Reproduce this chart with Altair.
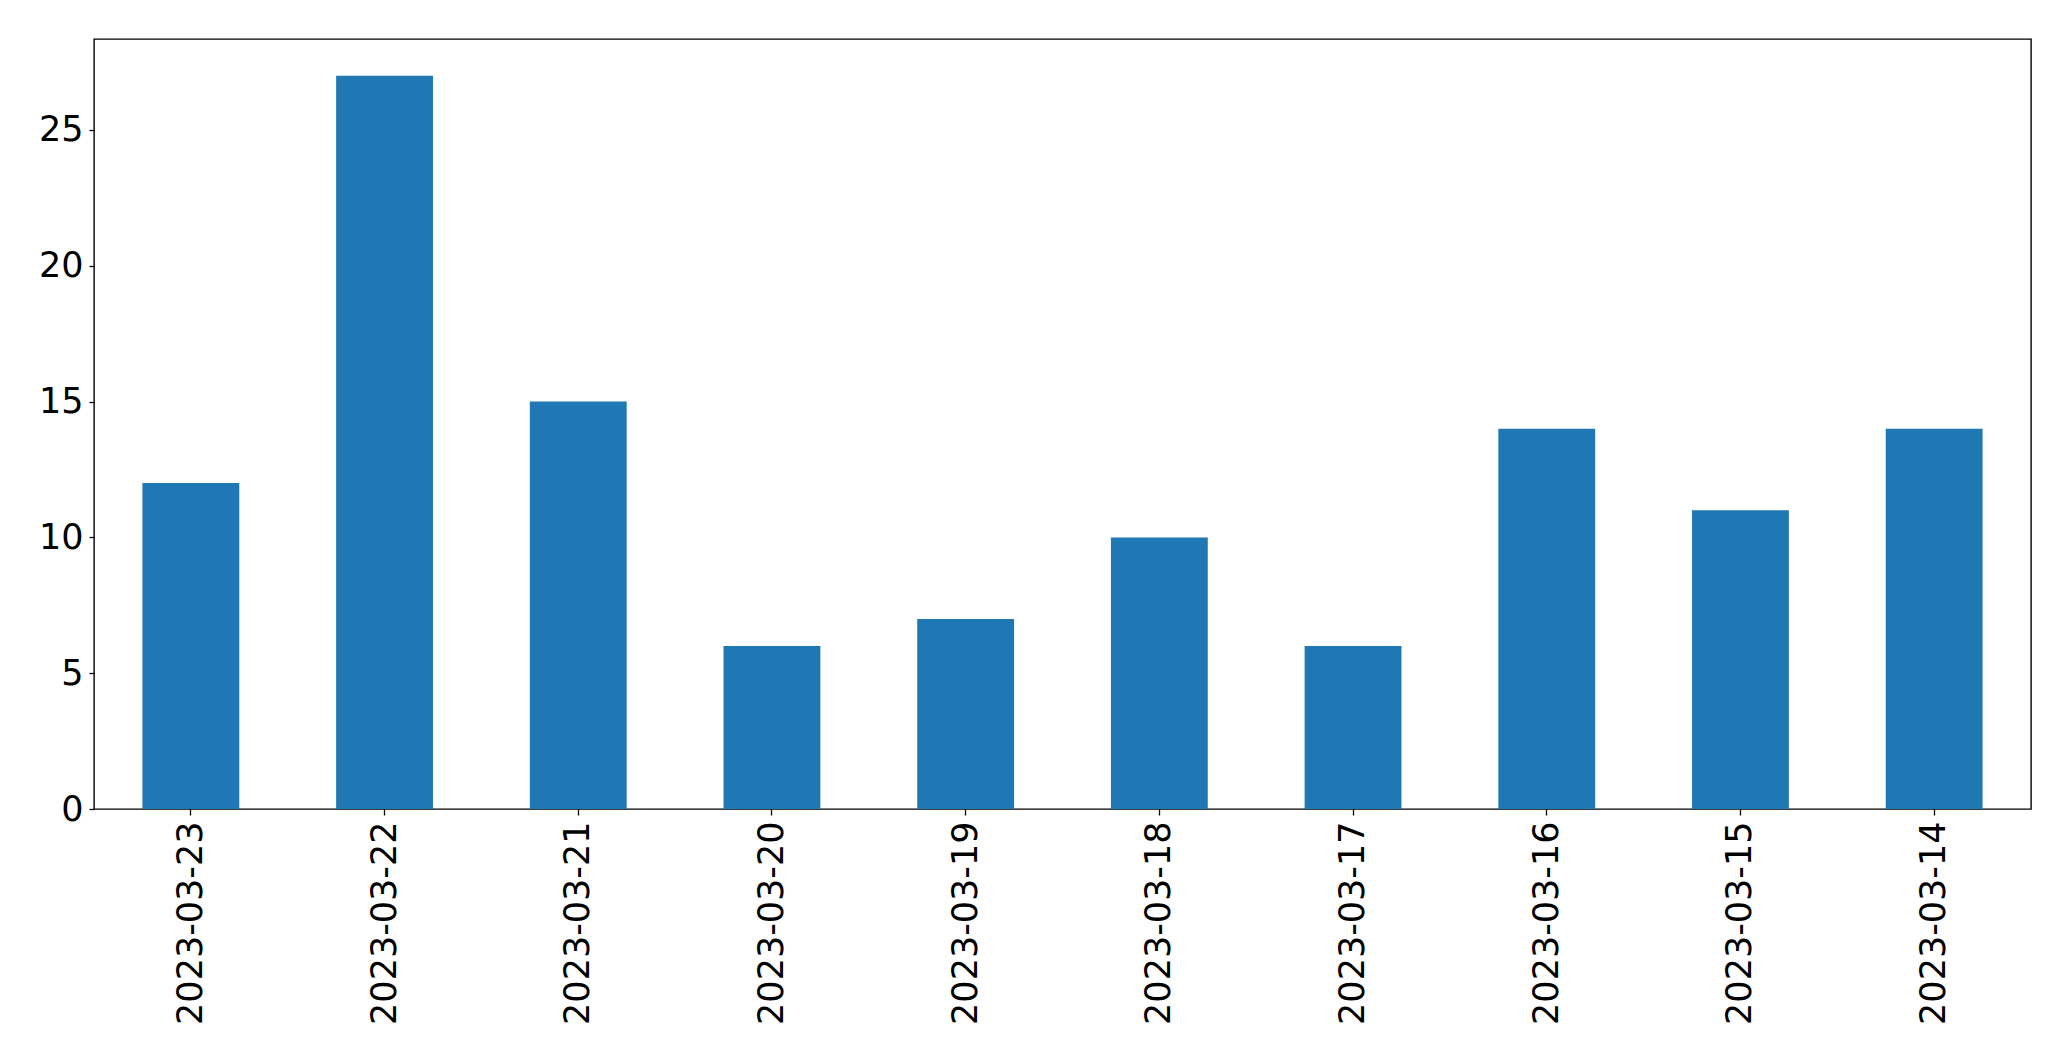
import altair as alt
import pandas as pd

dates = ["2023-03-23", "2023-03-22", "2023-03-21", "2023-03-20", "2023-03-19",
         "2023-03-18", "2023-03-17", "2023-03-16", "2023-03-15", "2023-03-14"]
counts = [12, 27, 15, 6, 7, 10, 6, 14, 11, 14]

df = pd.DataFrame({"date": dates, "count": counts})

chart = alt.Chart(df).mark_bar(color="#1f77b4").encode(
    x=alt.X("date:N", sort=dates, title=None,
            scale=alt.Scale(paddingInner=0.5, paddingOuter=0.25),
            axis=alt.Axis(labelAngle=270, labelFontSize=35, labelFont="DejaVu Sans",
                          labelColor="black", tickColor="black", tickSize=6,
                          tickWidth=1.3, domain=False, grid=False, labelPadding=6,
                          labelAlign="right", labelBaseline="middle", labelLimit=0)),
    y=alt.Y("count:Q", title=None,
            scale=alt.Scale(domain=[0, 28.35], nice=False, zero=True),
            axis=alt.Axis(values=[0, 5, 10, 15, 20, 25], labelFontSize=35,
                          labelFont="DejaVu Sans", labelColor="black",
                          tickColor="black", tickSize=5, tickWidth=1.3,
                          domain=False, grid=False, labelPadding=6)),
).properties(
    width=1937, height=770,
    autosize=alt.AutoSizeParams(type="none"),
    padding={"left": 86, "top": 31, "right": 30, "bottom": 240},
).configure(
    background="white"
).configure_view(
    stroke="black", strokeWidth=1.4
)

chart.save("out.html", embed_options={"renderer": "svg", "actions": False})
